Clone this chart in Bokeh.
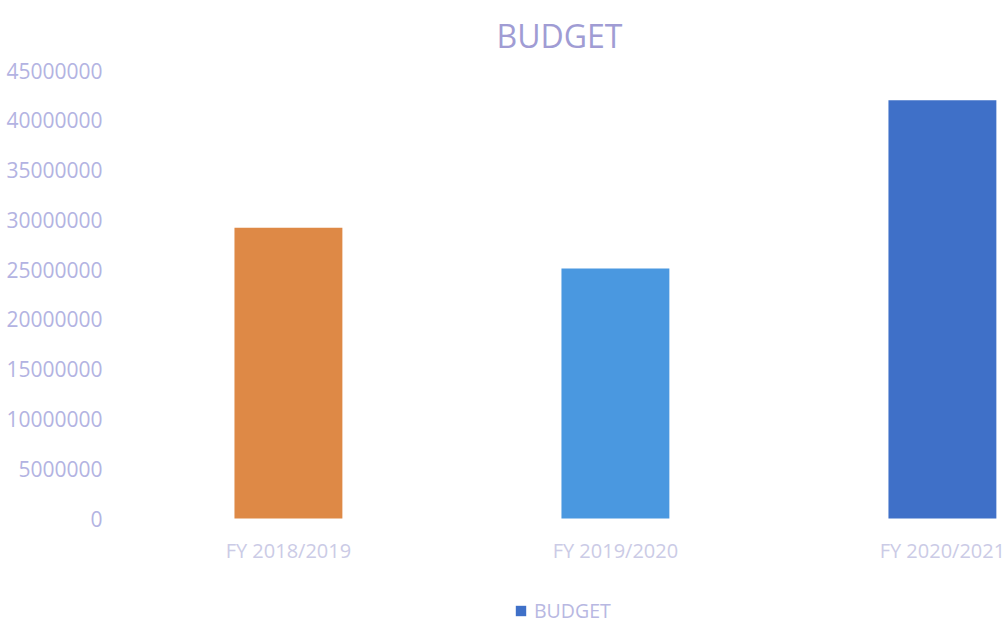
from bokeh.plotting import figure
from bokeh.models import Range1d, FixedTicker, BasicTickFormatter, Legend, LegendItem, ColumnDataSource
from bokeh.core.properties import value
from bokeh.embed import file_html
from bokeh.resources import INLINE

categories = ["FY 2018/2019", "FY 2019/2020", "FY 2020/2021"]
budget = [29200000, 25100000, 42000000]
bar_colors = ["#de8946", "#4a98e0", "#3f70c8"]
y_ticks = [0, 5000000, 10000000, 15000000, 20000000, 25000000, 30000000, 35000000, 40000000, 45000000]
series_name = "BUDGET"

xs = list(range(len(categories)))
src = ColumnDataSource(dict(x=xs, top=budget, color=bar_colors, name=categories, base=[0] * len(xs)))

FONT = "Open Sans"

p = figure(width=1006, height=624, output_backend="svg", toolbar_location=None,
           x_range=Range1d(-0.538, 2.196), y_range=Range1d(-10647000, 45000000),
           x_axis_location=None,
           min_border_left=112, min_border_right=0, min_border_top=70, min_border_bottom=0,
           title="BUDGET")
p.title.align = "center"
p.title.vertical_align = "top"
p.title.text_font = FONT
p.title.text_font_size = "32px"
p.title.text_font_style = "normal"
p.title.text_color = "#a09cd4"
p.title.standoff = 24

p.outline_line_color = None
p.xgrid.grid_line_color = None
p.ygrid.grid_line_color = None
p.background_fill_color = "white"
p.border_fill_color = "white"

bars = p.vbar(x="x", top="top", width=0.33, bottom=0, fill_color="color", line_color=None, source=src)

# category labels under the bars
p.text(x="x", y="base", text="name", source=src, text_align="center", text_baseline="middle",
       y_offset=32, text_font=value(FONT), text_font_size="20px", text_color="#cbcbe6")

# y axis
p.yaxis.ticker = FixedTicker(ticks=y_ticks)
p.yaxis.formatter = BasicTickFormatter(use_scientific=False)
p.yaxis.axis_line_color = None
p.yaxis.major_tick_line_color = None
p.yaxis.minor_tick_line_color = None
p.yaxis.major_label_standoff = 4
p.yaxis.major_label_text_font = FONT
p.yaxis.major_label_text_font_size = "21px"
p.yaxis.major_label_text_color = "#b3b3e2"

# legend (series swatch uses the series' blue point)
legend = Legend(items=[LegendItem(label=series_name, renderers=[bars], index=2)],
                location=(402, 0), padding=0, margin=0,
                border_line_alpha=0, background_fill_alpha=0,
                glyph_width=13, glyph_height=13, spacing=0,
                label_text_font=FONT, label_text_font_size="19.5px", label_text_color="#b8b8e2",
                label_standoff=7)
p.add_layout(legend, "center")

open("out.html", "w").write(file_html(p, INLINE))
